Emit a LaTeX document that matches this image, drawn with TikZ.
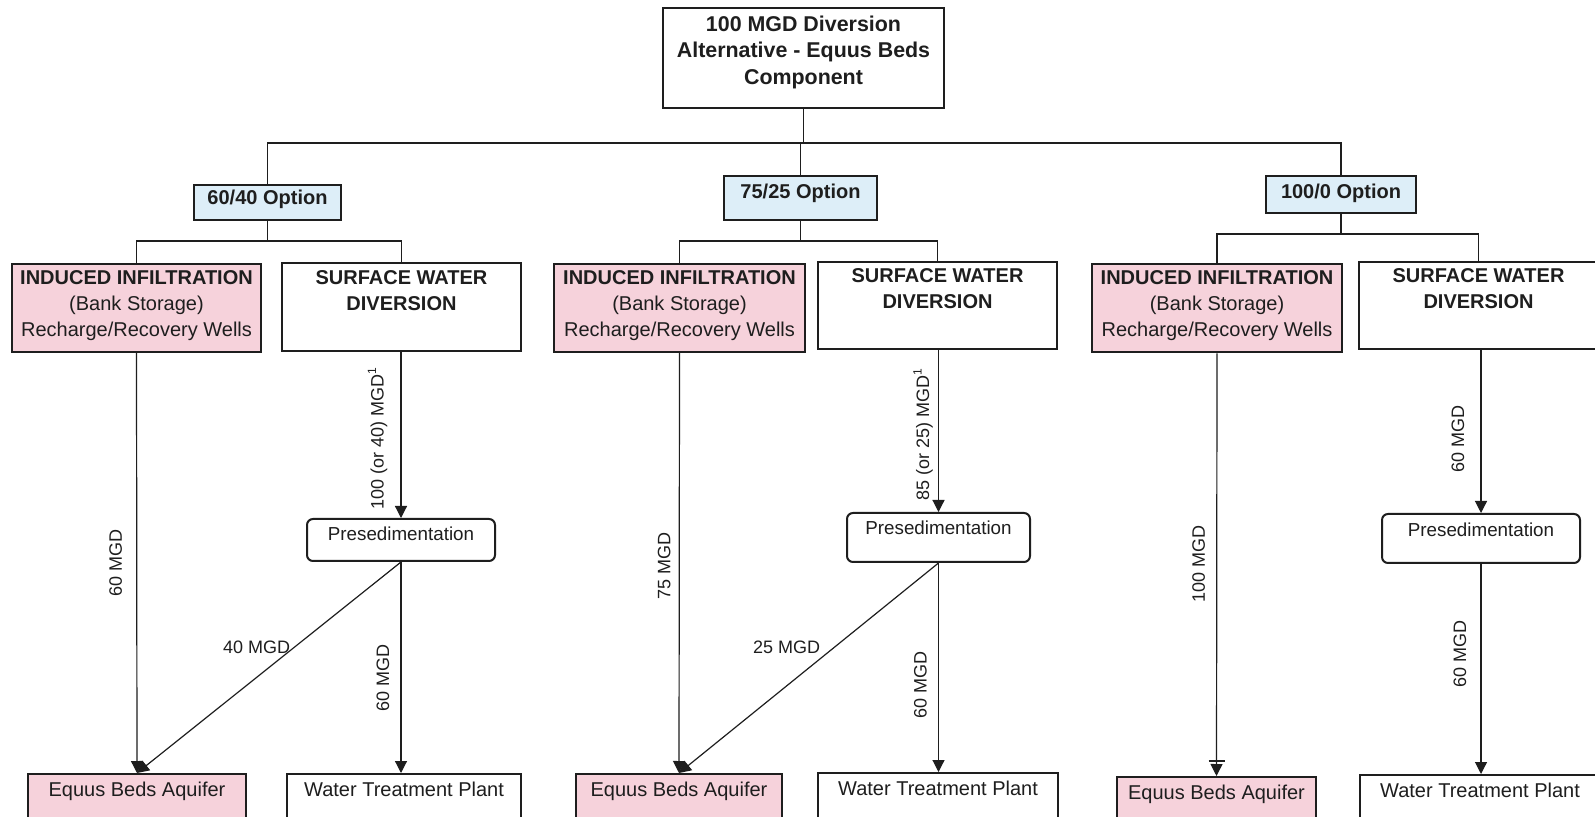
\documentclass[tikz,border=0pt]{standalone}
\usepackage{fontspec}
\setmainfont{Liberation Sans}
\usepackage{tikz}
\usetikzlibrary{arrows.meta,positioning,calc}
\definecolor{ink}{HTML}{1E1E1E}
\definecolor{blush}{HTML}{F6D2DB}
\definecolor{sky}{HTML}{DDEEF8}
\tikzset{
  box/.style={draw=ink,line width=1pt,fill=white,align=center,text=ink,inner sep=0pt,font=\fontsize{10}{13}\selectfont},
  head/.style={box,font=\fontsize{10.7}{13.25}\selectfont\bfseries,text depth=8pt},
  optbox/.style={box,fill=sky,font=\fontsize{10}{12}\selectfont\bfseries,text depth=5pt},
  wellbox/.style={box,fill=blush,minimum height=44pt,text depth=4.5pt},
  swbox/.style={box,font=\fontsize{10}{13}\selectfont\bfseries,minimum height=44pt,text depth=16.8pt},
  presed/.style={box,rounded corners=3pt,font=\fontsize{9.4}{11}\selectfont,text height=7pt,text depth=#1},
  endbox/.style={box,anchor=north,minimum height=30pt,inner ysep=4pt,text height=7pt,text depth=15pt},
  tree/.style={line width=0.7pt,color=ink},
  flow/.style={-{Triangle[length=6pt,width=6pt]},line width=0.6pt,color=ink},
  vlbl/.style={font=\fontsize{9}{10}\selectfont,text=ink,rotate=90,anchor=south,inner sep=#1},
  dlbl/.style={font=\fontsize{9}{10}\selectfont,text=ink,anchor=east,inner sep=#1},
}
\begin{document}
\begin{tikzpicture}[x=0.5pt,y=-0.5pt]
  \path[use as bounding box,fill=white] (0,0) rectangle (1595,817);

  % top of the tree
  \node[head,minimum width=140.5pt,minimum height=50pt] (main) at (803.5,58) {100 MGD Diversion\\Alternative - Equus Beds\\Component};
  \node[optbox,minimum width=73.5pt,minimum height=17.5pt] (opt1) at (267.5,202.5) {60/40 Option};
  \node[optbox,minimum width=76.5pt,minimum height=22pt,text depth=7pt] (opt2) at (800.5,198) {75/25 Option};
  \node[optbox,minimum width=75pt,minimum height=18.5pt,text depth=3.5pt] (opt3) at (1341,194.5) {100/0 Option};

  % sources
  \node[wellbox,minimum width=124.5pt] (ind1) at (136.5,308) {\textbf{INDUCED INFILTRATION}\\(Bank Storage)\\Recharge/Recovery Wells};
  \node[swbox,minimum width=119.5pt] (sw1) at (401.5,307) {SURFACE WATER\\DIVERSION};
  \node[wellbox,minimum width=125.5pt] (ind2) at (679.5,308) {\textbf{INDUCED INFILTRATION}\\(Bank Storage)\\Recharge/Recovery Wells};
  \node[swbox,minimum width=119.5pt,minimum height=43.5pt] (sw2) at (937.5,305.5) {SURFACE WATER\\DIVERSION};
  \node[wellbox,minimum width=125pt] (ind3) at (1217,308.5) {\textbf{INDUCED INFILTRATION}\\(Bank Storage)\\Recharge/Recovery Wells};
  \node[swbox,minimum width=119.5pt,minimum height=43.5pt] (sw3) at (1478.5,305.5) {SURFACE WATER\\DIVERSION};

  % presedimentation
  \node[presed=6pt,minimum width=94pt,minimum height=21pt] (pre1) at (401,540) {Presedimentation};
  \node[presed=9.5pt,minimum width=91.5pt,minimum height=24.5pt] (pre2) at (938.5,537.5) {Presedimentation};
  \node[presed=8.5pt,minimum width=99pt,minimum height=24.5pt] (pre3) at (1481,538.5) {Presedimentation};

  % end points
  \node[endbox,fill=blush,minimum width=109pt] (aq1) at (137,773) {Equus Beds Aquifer};
  \node[endbox,minimum width=117pt] (wtp1) at (404,773) {Water Treatment Plant};
  \node[endbox,fill=blush,minimum width=103pt] (aq2) at (679,773) {Equus Beds Aquifer};
  \node[endbox,minimum width=120pt] (wtp2) at (938,772) {Water Treatment Plant};
  \node[endbox,fill=blush,minimum width=99.5pt] (aq3) at (1216.5,776) {Equus Beds Aquifer};
  \node[endbox,minimum width=120pt] (wtp3) at (1480,774) {Water Treatment Plant};

  % tree lines
  \coordinate (hub) at (803.5,143);
  \draw[tree] (main.south) -- (hub);
  \draw[tree] (opt1.north) |- (hub) -| (opt3.north);
  \draw[tree] (opt2.north) |- (hub);
  \foreach \o/\a/\b in {opt1/ind1/sw1,opt2/ind2/sw2,opt3/ind3/sw3} {
    \draw[tree] (\o.south) -- ++(0,20) coordinate (split);
    \draw[tree] (\a.north) |- (split) -| (\b.north);
  }

  % 60/40 flows
  \draw[flow] (ind1.south) -- node[vlbl=7pt,pos=0.5] {60 MGD} (aq1.north);
  \draw[flow] (pre1.north |- sw1.south) -- node[vlbl=6.5pt,pos=0.52] {100 (or 40) MGD\textsuperscript{1}} (pre1.north);
  \draw[flow] (pre1.south) -- node[vlbl=5.5pt,pos=0.55] {60 MGD} (pre1.south |- wtp1.north);
  \draw[flow] (pre1.south) -- node[dlbl=1.5pt,pos=0.406] {40 MGD} (aq1.north);

  % 75/25 flows
  \draw[flow] (ind2.south) -- node[vlbl=4pt,pos=0.506] {75 MGD} (aq2.north);
  \draw[flow] (pre2.north |- sw2.south) -- node[vlbl=2.5pt,pos=0.52] {85 (or 25) MGD\textsuperscript{1}} (pre2.north);
  \draw[flow] (pre2.south) -- node[vlbl=5.5pt,pos=0.586] {60 MGD} (pre2.south |- wtp2.north);
  \draw[flow] (pre2.south) -- node[dlbl=7pt,pos=0.40] {25 MGD} (aq2.north);

  % 100/0 flows
  \draw[flow] (ind3.south) -- node[vlbl=5.5pt,pos=0.498] {100 MGD} (aq3.north);
  \draw[tree] ($(aq3.north)+(-8,-15)$) -- ($(aq3.north)+(8,-15)$);
  \draw[flow] (pre3.north |- sw3.south) -- node[vlbl=8pt,pos=0.545] {60 MGD} (pre3.north);
  \draw[flow] (pre3.south) -- node[vlbl=7pt,pos=0.427] {60 MGD} (pre3.south |- wtp3.north);
\end{tikzpicture}
\end{document}
